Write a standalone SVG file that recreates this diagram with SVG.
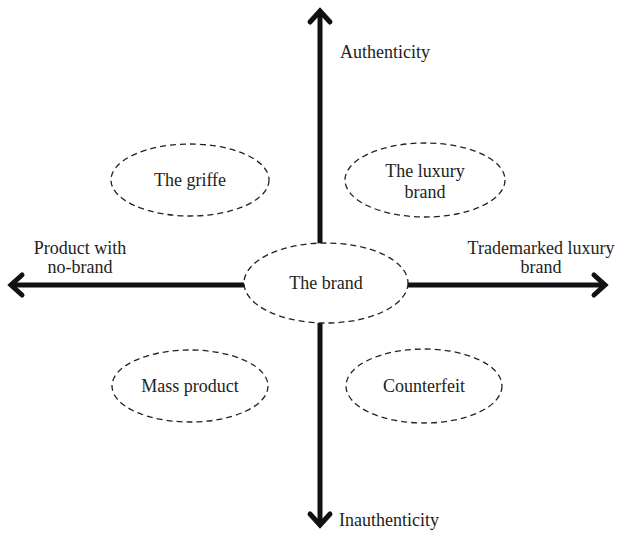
<svg xmlns="http://www.w3.org/2000/svg" width="617" height="534" viewBox="0 0 617 534">
<style>
text{font-family:'Liberation Serif','DejaVu Serif',serif;font-size:18px;fill:#222;text-anchor:middle}
.ax{stroke:#111;stroke-width:5;fill:none}
.hd{stroke:#111;stroke-width:5;fill:none;stroke-linecap:round;stroke-linejoin:miter}
.el{fill:#fff;stroke:#222;stroke-width:1.3;stroke-dasharray:6 4}
</style>
<rect width="617" height="534" fill="#fff"/>
<g id="connectors">
<line class="ax" x1="320" y1="12" x2="320" y2="244"/>
<polyline class="hd" points="310,22 320,11 330,22"/>
<line class="ax" x1="320" y1="323" x2="320" y2="524"/>
<polyline class="hd" points="310,514 320,525 330,514"/>
<line class="ax" x1="12" y1="285" x2="244" y2="285"/>
<polyline class="hd" points="22,275 11,285 22,295"/>
<line class="ax" x1="408" y1="285" x2="604" y2="285"/>
<polyline class="hd" points="594,275 605,285 594,295"/>
</g>
<g id="brand"><ellipse class="el" cx="326" cy="283" rx="82" ry="40"/><text x="326" y="289">The brand</text></g>
<g id="griffe"><ellipse class="el" cx="190" cy="180" rx="79" ry="36"/><text x="190" y="186">The griffe</text></g>
<g id="luxury"><ellipse class="el" cx="425" cy="180" rx="80" ry="37"/><text x="425" y="177">The luxury</text><text x="425" y="198">brand</text></g>
<g id="mass"><ellipse class="el" cx="190" cy="386" rx="78" ry="36"/><text x="190" y="392">Mass product</text></g>
<g id="counterfeit"><ellipse class="el" cx="424" cy="386" rx="78" ry="37"/><text x="424" y="392">Counterfeit</text></g>
<g id="authenticity"><text x="385" y="58">Authenticity</text></g>
<g id="inauthenticity"><text x="389" y="526">Inauthenticity</text></g>
<g id="nobrand"><text x="80" y="254">Product with</text><text x="80" y="273">no-brand</text></g>
<g id="trademarked"><text x="541" y="254">Trademarked luxury</text><text x="541" y="273">brand</text></g>
</svg>
